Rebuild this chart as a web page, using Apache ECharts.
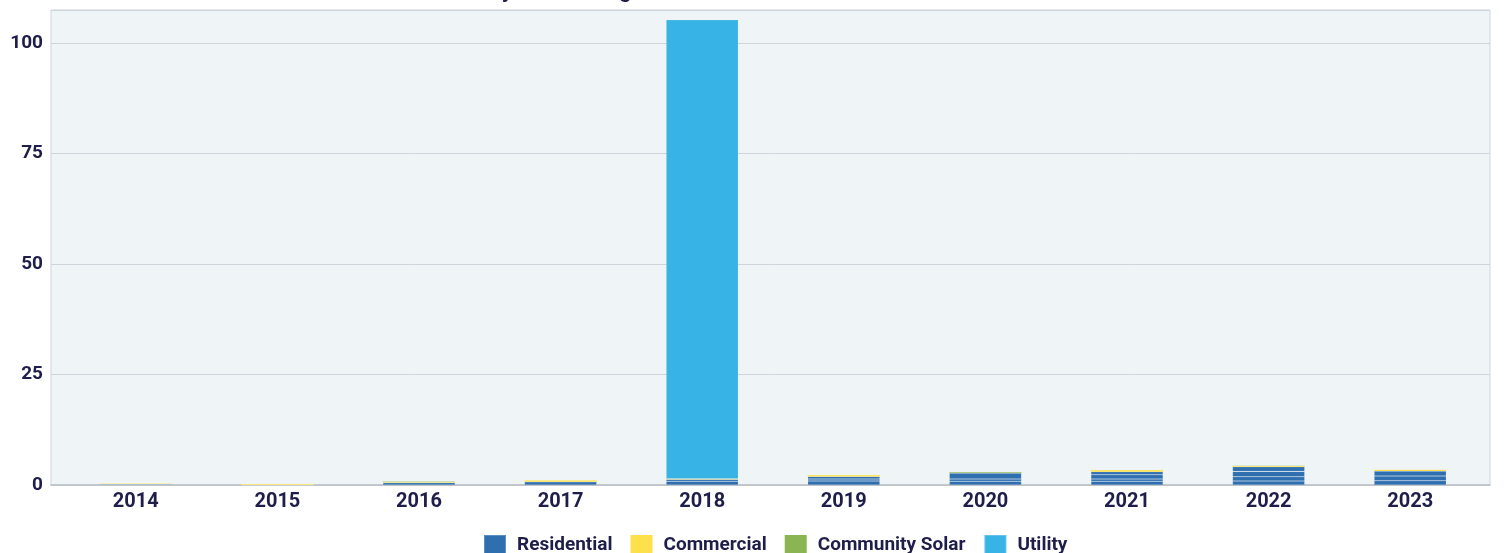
<!DOCTYPE html>
<html>
<head>
<meta charset="utf-8">
<script src="https://cdn.jsdelivr.net/npm/echarts@6/dist/echarts.min.js"></script>
<style>
html,body{margin:0;padding:0;background:#ffffff;}
#chart{width:1511px;height:553px;}
</style>
</head>
<body>
<div id="chart"></div>
<script>
const titleText = 'Solar Installations by Market Segment';
const years = ['2014','2015','2016','2017','2018','2019','2020','2021','2022','2023'];
const yTicks = [0, 25, 50, 75, 100];
// Residential is drawn as stacked blocks (as in the reference)
const residentialA = [0.25, 0.05, 0.55, 0.75, 0.85, 0.90, 0.85, 0.85, 0.90, 0.97];
const residentialB = [0, 0, 0, 0, 0.45, 0.45, 0.50, 0.50, 0.97, 1.06];
const residentialC = [0, 0, 0, 0, 0, 0.60, 1.35, 0.97, 1.22, 1.13];
const residentialD = [0, 0, 0, 0, 0, 0, 0, 0.68, 1.04, 0];
const commercial = [0.08, 0.15, 0.15, 0.30, 0.10, 0.30, 0.05, 0.38, 0.15, 0.30];
const communitySolar = [0, 0.05, 0.10, 0, 0, 0, 0.20, 0, 0.08, 0];
const utility = [0, 0, 0, 0, 103.9, 0, 0, 0, 0, 0];

const C_RES = '#2f6fb0', C_COM = '#fde04a', C_CS = '#8bb552', C_UT = '#38b3e5';
const TXT = '#1f1d4a';
const Y_MAX = 107.5;

function bar(name, data, color, withBorder) {
  const style = {color: color};
  if (withBorder) { style.borderColor = 'rgba(255,255,255,0.22)'; style.borderWidth = 0.6; }
  return {
    name: name, type: 'bar', stack: 'total', data: data, barWidth: '51%',
    xAxisIndex: 1, yAxisIndex: 1,
    itemStyle: style,
    emphasis: {disabled: true}
  };
}

const chart = echarts.init(document.getElementById('chart'));
chart.setOption({
  animation: false,
  textStyle: {fontFamily: 'Roboto'},
  title: {
    text: titleText, left: 300, top: -25,
    textStyle: {fontSize: 22, fontWeight: 'bold', color: TXT, fontFamily: 'Roboto'}
  },
  legend: {
    data: ['Residential', 'Commercial', 'Community Solar', 'Utility'],
    left: 478, top: 529, icon: 'rect', itemWidth: 22, itemHeight: 20, itemGap: 18,
    textStyle: {fontSize: 19, fontWeight: 'bold', color: TXT, padding: [0, 0, 0, 6]}
  },
  grid: [
    {left: 51, right: 21, top: 10, bottom: 68, show: true,
     backgroundColor: '#eff4f7', borderColor: '#cdd4db', borderWidth: 1},
    {left: 65, right: 30, top: 10, bottom: 68}
  ],
  xAxis: [
    {gridIndex: 0, type: 'category', data: years,
     axisLine: {lineStyle: {color: '#b9bfc5', width: 1.5}},
     axisTick: {show: false}, axisLabel: {show: false}},
    {gridIndex: 1, type: 'category', data: years,
     axisLine: {show: false}, axisTick: {show: false},
     axisLabel: {fontSize: 20, fontWeight: 'bold', color: TXT, margin: 7}}
  ],
  yAxis: [
    {gridIndex: 0, type: 'value', min: yTicks[0], max: Y_MAX, interval: 25,
     axisLine: {show: false}, axisTick: {show: false},
     splitLine: {lineStyle: {color: '#cdd4db', width: 1}},
     axisLabel: {fontSize: 19, fontWeight: 'bold', color: TXT, margin: 8, showMaxLabel: false}},
    {gridIndex: 1, type: 'value', min: yTicks[0], max: Y_MAX, interval: 25,
     show: false, splitLine: {show: false}}
  ],
  series: [
    bar('Residential', residentialA, C_RES, true),
    bar('Residential', residentialB, C_RES, true),
    bar('Residential', residentialC, C_RES, true),
    bar('Residential', residentialD, C_RES, true),
    bar('Commercial', commercial, C_COM, false),
    bar('Community Solar', communitySolar, C_CS, false),
    bar('Utility', utility, C_UT, true)
  ]
});
</script>
</body>
</html>
